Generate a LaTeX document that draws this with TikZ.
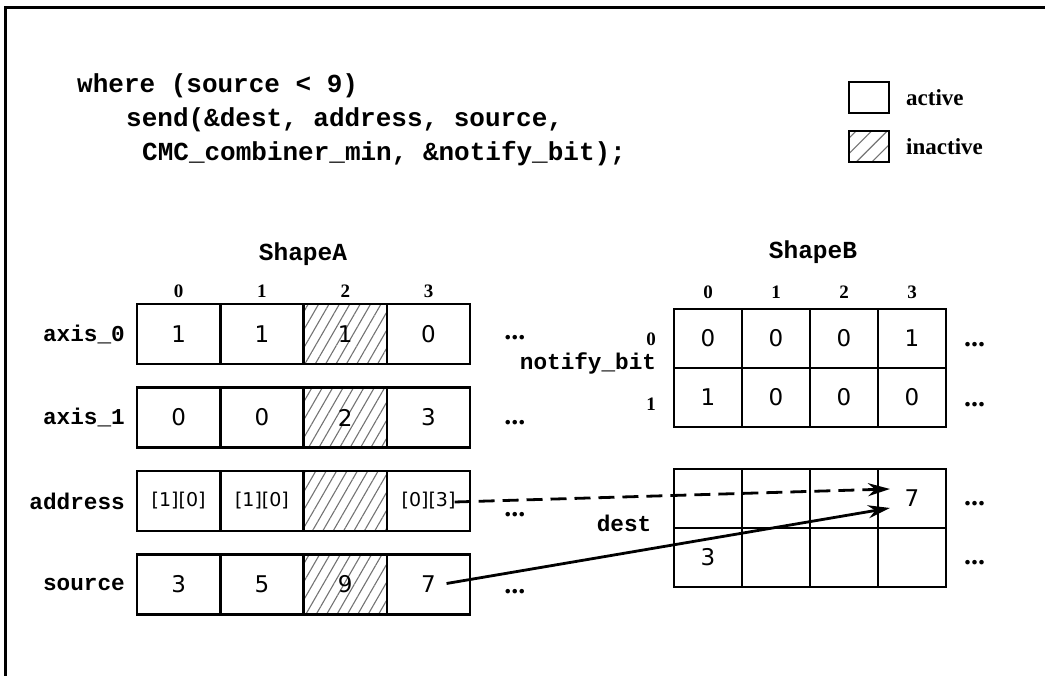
\documentclass[tikz,border=0pt]{standalone}
\usepackage{fontspec}
\setmainfont{Liberation Serif}
\newfontfamily\codefam{Liberation Mono}
\newfontfamily\cellfam{DejaVu Sans}
\usetikzlibrary{positioning,calc,arrows.meta,patterns.meta}

\begin{document}
\begin{tikzpicture}[
    x=1pt, y=1pt,
    node distance=0pt,
    cell/.style={draw, line width=2.5pt, minimum width=83.3pt, minimum height=60pt, inner sep=0pt, outer sep=0pt, font=\cellfam\fontsize{23}{26}\selectfont},
    off/.style={cell, pattern={Lines[angle=60, distance=9pt, line width=1.1pt]}, pattern color=black!55},
    addr/.style={cell, font=\cellfam\fontsize{19}{22}\selectfont},
    bcell/.style={cell, minimum width=68pt, minimum height=59pt},
    code/.style={anchor=base west, inner sep=0pt, font=\codefam\bfseries\fontsize{26}{30}\selectfont},
    title/.style={inner sep=0pt, font=\codefam\bfseries\fontsize{24.5}{28}\selectfont},
    lbl/.style={inner sep=0pt, font=\codefam\bfseries\fontsize{22.7}{26}\selectfont},
    idx/.style={inner sep=0pt, font=\bfseries\fontsize{19}{22}\selectfont},
    more/.style={inner sep=0pt, font=\bfseries\fontsize{28}{30}\selectfont},
    key/.style={draw, line width=2pt, minimum width=40pt, minimum height=31pt, inner sep=0pt, outer sep=0pt},
    keytext/.style={inner sep=0pt, font=\bfseries\fontsize{23}{26}\selectfont},
    arrow/.style={-{Stealth[length=22pt, width=13pt]}, line width=2.8pt}
]
\useasboundingbox (0,0) rectangle (1045,-676);

% Frame
\draw[line width=3pt] (5,-676) -- (5,-8) -- (1045,-8);

% Code
\node[code] (where) at (77,-93) {where (source < 9)};
\node[code] (send) at (126,-127) {send(\&dest, address, source,};
\node[code] (comb) at (142,-161) {CMC\_combiner\_min, \&notify\_bit);};

% Legend
\node[key] (act) at (869,-98) {};
\node[keytext, anchor=west, right=17pt of act] (acttext) {active};
\node[key, pattern={Lines[angle=45, distance=11pt, line width=1.1pt]}, pattern color=black!55] (inact) at (869,-147) {};
\node[keytext, anchor=west, right=17pt of inact] (inacttext) {inactive};

% ShapeA
\node[title] (shapeA) at (303,-254) {ShapeA};

\node[cell, anchor=north west] (axis0-0) at (137,-304) {1};
\node[cell, right=of axis0-0] (axis0-1) {1};
\node[off, right=of axis0-1] (axis0-2) {1};
\node[cell, right=of axis0-2] (axis0-3) {0};

\node[cell, below=23.5pt of axis0-0] (axis1-0) {0};
\node[cell, right=of axis1-0] (axis1-1) {0};
\node[off, right=of axis1-1] (axis1-2) {2};
\node[cell, right=of axis1-2] (axis1-3) {3};

\node[addr, below=23.5pt of axis1-0] (addr-0) {[1][0]};
\node[addr, right=of addr-0] (addr-1) {[1][0]};
\node[off, right=of addr-1] (addr-2) {};
\node[addr, right=of addr-2] (addr-3) {[0][3]};

\node[cell, below=23.5pt of addr-0] (src-0) {3};
\node[cell, right=of src-0] (src-1) {5};
\node[off, right=of src-1] (src-2) {9};
\node[cell, right=of src-2] (src-3) {7};

\node[idx, above=6pt of axis0-0] (ca0) {0};
\node[idx, above=6pt of axis0-1] (ca1) {1};
\node[idx, above=6pt of axis0-2] (ca2) {2};
\node[idx, above=6pt of axis0-3] (ca3) {3};

\node[lbl, left=12pt of axis0-0] (axis0) {axis\_0};
\node[lbl, left=12pt of axis1-0] (axis1) {axis\_1};
\node[lbl, left=12pt of addr-0] (address) {address};
\node[lbl, left=12pt of src-0] (source) {source};

\node[more, right=34pt of axis0-3, yshift=-4pt] (moreA0) {...};
\node[more, right=34pt of axis1-3, yshift=-5pt] (moreA1) {...};
\node[more, right=34pt of addr-3, yshift=-14pt] (moreA2) {...};
\node[more, right=34pt of src-3, yshift=-7pt] (moreA3) {...};

% ShapeB
\node[title] (shapeB) at (813,-252) {ShapeB};

\node[bcell, anchor=north west] (nb0-0) at (674,-309) {0};
\node[bcell, right=of nb0-0] (nb0-1) {0};
\node[bcell, right=of nb0-1] (nb0-2) {0};
\node[bcell, right=of nb0-2] (nb0-3) {1};
\node[bcell, below=of nb0-0] (nb1-0) {1};
\node[bcell, right=of nb1-0] (nb1-1) {0};
\node[bcell, right=of nb1-1] (nb1-2) {0};
\node[bcell, right=of nb1-2] (nb1-3) {0};

\node[idx, above=10pt of nb0-0] (cb0) {0};
\node[idx, above=10pt of nb0-1] (cb1) {1};
\node[idx, above=10pt of nb0-2] (cb2) {2};
\node[idx, above=10pt of nb0-3] (cb3) {3};
\node[idx, left=18pt of nb0-0, yshift=-1pt] (rb0) {0};
\node[idx, left=18pt of nb1-0, yshift=-7pt] (rb1) {1};
\node[lbl] (notify) at (588,-363) {notify\_bit};

\node[bcell, anchor=north west] (dest0-0) at (674,-469) {};
\node[bcell, right=of dest0-0] (dest0-1) {};
\node[bcell, right=of dest0-1] (dest0-2) {};
\node[bcell, right=of dest0-2] (dest0-3) {7};
\node[bcell, below=of dest0-0] (dest1-0) {3};
\node[bcell, right=of dest1-0] (dest1-1) {};
\node[bcell, right=of dest1-1] (dest1-2) {};
\node[bcell, right=of dest1-2] (dest1-3) {};
\node[lbl] (dest) at (624,-523) {dest};

\node[more, right=18pt of nb0-3, yshift=-6pt] (moreB0) {...};
\node[more, right=18pt of nb1-3, yshift=-7pt] (moreB1) {...};
\node[more, right=18pt of dest0-3, yshift=-5pt] (moreB2) {...};
\node[more, right=18pt of dest1-3, yshift=-5pt] (moreB3) {...};

% Arrows
\coordinate (from-addr) at ($(addr-3.center)+(26,-1)$);
\coordinate (from-src) at ($(src-3.center)+(18,1)$);
\coordinate (to-top) at ($(dest0-3.center)+(-22,9.5)$);
\coordinate (to-bot) at ($(dest0-3.center)+(-22,-9.5)$);
\draw[arrow, dash pattern=on 16pt off 8pt] (from-addr) -- (to-top);
\draw[arrow] (from-src) -- (to-bot);

\end{tikzpicture}
\end{document}
